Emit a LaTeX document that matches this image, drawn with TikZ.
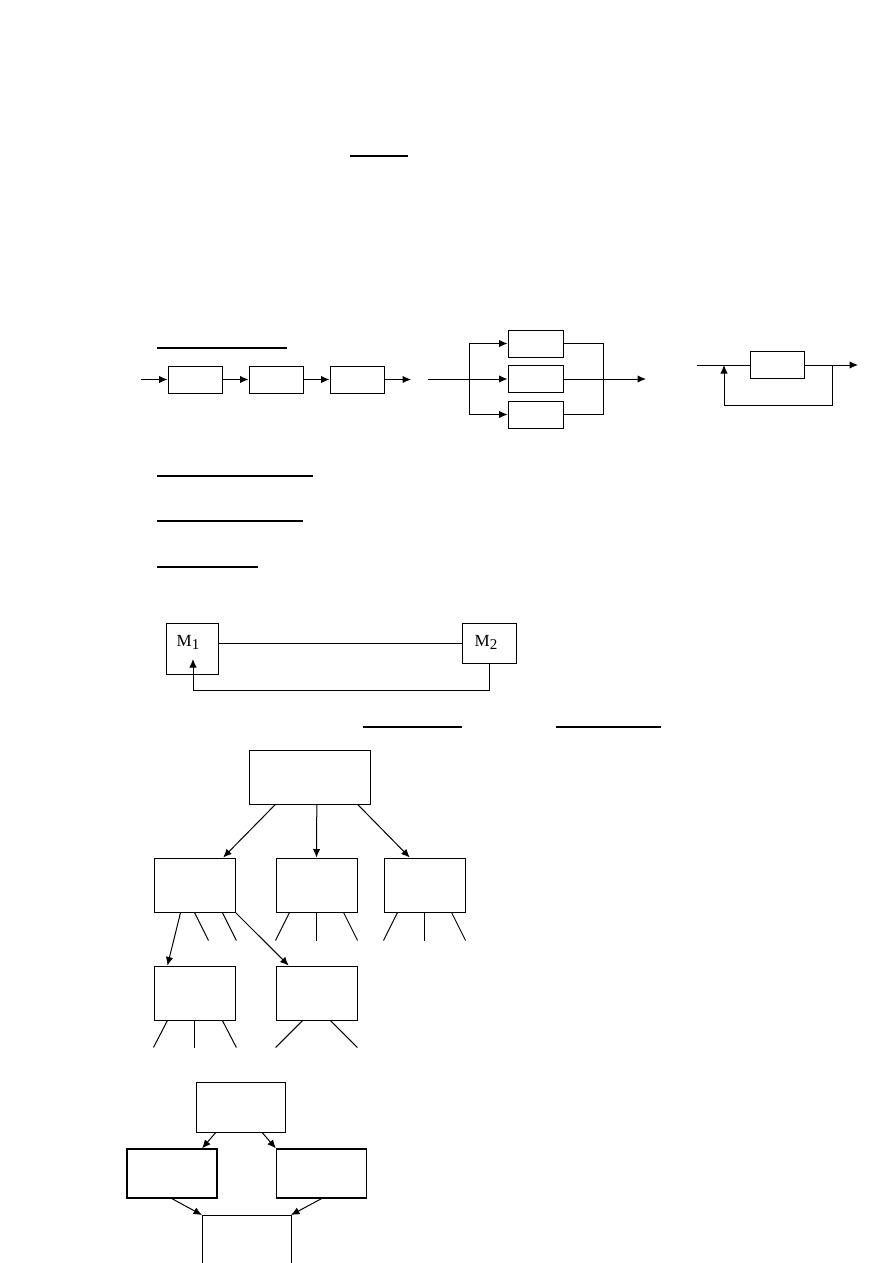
\documentclass[tikz,border=0pt]{standalone}
\usepackage{fontspec}
\setmainfont{Liberation Serif}
\usetikzlibrary{arrows.meta,calc}
\newcommand{\tief}[1]{\raisebox{-3pt}{\fontsize{15}{15}\selectfont #1}}

\begin{document}
\begin{tikzpicture}[x=1pt, y=-1pt, >={Latex[length=8.5pt,width=7.5pt]}, line width=1pt, inner sep=0pt,
	kasten/.style={draw, rectangle, line width=1pt},
	klein/.style={kasten, minimum width=54pt, minimum height=27pt},
	baum/.style={kasten, minimum width=81pt, minimum height=54pt},
	unter/.style={kasten, line width=1.3pt, minimum width=90pt, minimum height=49pt},
	strich/.style={line width=2pt},
	schrift/.style={font=\fontsize{17}{20}\selectfont}]

	\useasboundingbox (0,0) rectangle (893,1263);

	% Striche (Ueberschriften)
	\draw[strich] (350,156) -- (408,156);
	\draw[strich] (157,348) -- (287,348);
	\draw[strich] (157,476) -- (313,476);
	\draw[strich] (157,521) -- (303,521);
	\draw[strich] (157,567) -- (258,567);
	\draw[strich] (363,727) -- (462,727);
	\draw[strich] (556,727) -- (661,727);

	% Reihe
	\node[klein](r1) at (195,379.5) {};
	\node[klein](r2) at (276,379.5) {};
	\node[klein](r3) at (357,379.5) {};
	\coordinate (r_start) at (141,379.5);
	\coordinate (r_ende) at (411,379.5);

	\draw[->] (r_start) -- (r1);
	\draw[->] (r1) -- (r2);
	\draw[->] (r2) -- (r3);
	\draw[->] (r3) -- (r_ende);

	% parallel
	\node[klein, minimum width=55pt](p1) at (535.5,343.5) {};
	\node[klein, minimum width=55pt](p2) at (535.5,379) {};
	\node[klein, minimum width=55pt](p3) at (535.5,414.5) {};
	\coordinate (p_start) at (428,379);
	\coordinate (p_ende) at (646,379);
	\coordinate (p_lo) at (469,343.5);
	\coordinate (p_lu) at (469,414.5);
	\coordinate (p_ro) at (603,343.5);
	\coordinate (p_ru) at (603,414.5);

	\draw (p_lo) -- (p_lu);
	\draw[->] (p_lo) -- (p1);
	\draw[->] (p_start) -- (p2);
	\draw[->] (p_lu) -- (p3);
	\draw (p1) -- (p_ro) -- (p_ru) -- (p3);
	\draw[->] (p2) -- (p_ende);

	% Rueckkopplung
	\node[klein](k1) at (777,365) {};
	\coordinate (k_start) at (697,365);
	\coordinate (k_ende) at (858,365);
	\coordinate (k_a) at (832,365);
	\coordinate (k_b) at (832,405);
	\coordinate (k_c) at (724,405);
	\coordinate (k_d) at (724,365);

	\draw (k_start) -- (k1);
	\draw[->] (k1) -- (k_ende);
	\draw[->] (k_a) -- (k_b) -- (k_c) -- (k_d);

	% M1 und M2
	\node[kasten, minimum width=52pt, minimum height=51pt](m1) at (192,648.5) {};
	\node[kasten, minimum width=54pt, minimum height=40pt](m2) at (489,643) {};
	\node[schrift](m1_text) at (188,642) {M\tief{1}};
	\node[schrift](m2_text) at (486,642) {M\tief{2}};
	\coordinate (m_a) at (489,690);
	\coordinate (m_b) at (193,690);
	\coordinate (m_c) at (193,659);

	\draw (m1.east |- m2.west) -- (m2.west);
	\draw[->] (m2.south) -- (m_a) -- (m_b) -- (m_c);

	% Baum
	\node[baum, minimum width=121pt](t0) at (309.5,777) {};
	\node[baum](t1) at (194.5,885) {};
	\node[baum](t2) at (316.5,885) {};
	\node[baum](t3) at (424.5,885) {};
	\node[baum](t4) at (194.5,993) {};
	\node[baum](t5) at (316.5,993) {};

	\draw[->] ($(t0.south west)!.22!(t0.south east)$) -- ($(t1.north west)!.85!(t1.north east)$);
	\draw[->] ($(t0.south west)!.56!(t0.south east)$) -- (t2.north);
	\draw[->] ($(t0.south west)!.895!(t0.south east)$) -- ($(t3.north west)!.32!(t3.north east)$);
	\draw[->] ($(t1.south west)!.33!(t1.south east)$) -- ($(t4.north west)!.17!(t4.north east)$);
	\draw[->] (t1.south east) -- ($(t5.north west)!.16!(t5.north east)$);

	% Aeste
	\draw ($(t1.south west)!.5!(t1.south east)$) -- ++(14,28);
	\draw ($(t1.south west)!.84!(t1.south east)$) -- ++(14,28);
	\draw ($(t2.south west)!.17!(t2.south east)$) -- ++(-14,28);
	\draw (t2.south) -- ++(0,28);
	\draw ($(t2.south west)!.83!(t2.south east)$) -- ++(14,28);
	\draw ($(t3.south west)!.17!(t3.south east)$) -- ++(-14,28);
	\draw (t3.south) -- ++(0,28);
	\draw ($(t3.south west)!.83!(t3.south east)$) -- ++(14,28);
	\draw ($(t4.south west)!.17!(t4.south east)$) -- ++(-14,27);
	\draw (t4.south) -- ++(0,27);
	\draw ($(t4.south west)!.84!(t4.south east)$) -- ++(14,27);
	\draw ($(t5.south west)!.33!(t5.south east)$) -- ++(-27,27);
	\draw ($(t5.south west)!.67!(t5.south east)$) -- ++(27,27);

	% unten
	\node[kasten, minimum width=89pt, minimum height=50pt](u0) at (240.5,1107) {};
	\node[unter](u1) at (172,1173.5) {};
	\node[unter](u2) at (321.5,1173.5) {};
	\coordinate (u3_nw) at (202,1215);
	\coordinate (u3_ne) at (291,1215);

	\draw (202,1263) -- (u3_nw) -- (u3_ne) -- (291,1263);
	\draw[->] ($(u0.south west)!.225!(u0.south east)$) -- ($(u1.north west)!.83!(u1.north east)$);
	\draw[->] ($(u0.south west)!.74!(u0.south east)$) -- (u2.north west);
	\draw[->] (u1.south) -- (u3_nw);
	\draw[->] (u2.south) -- (u3_ne);
\end{tikzpicture}
\end{document}
